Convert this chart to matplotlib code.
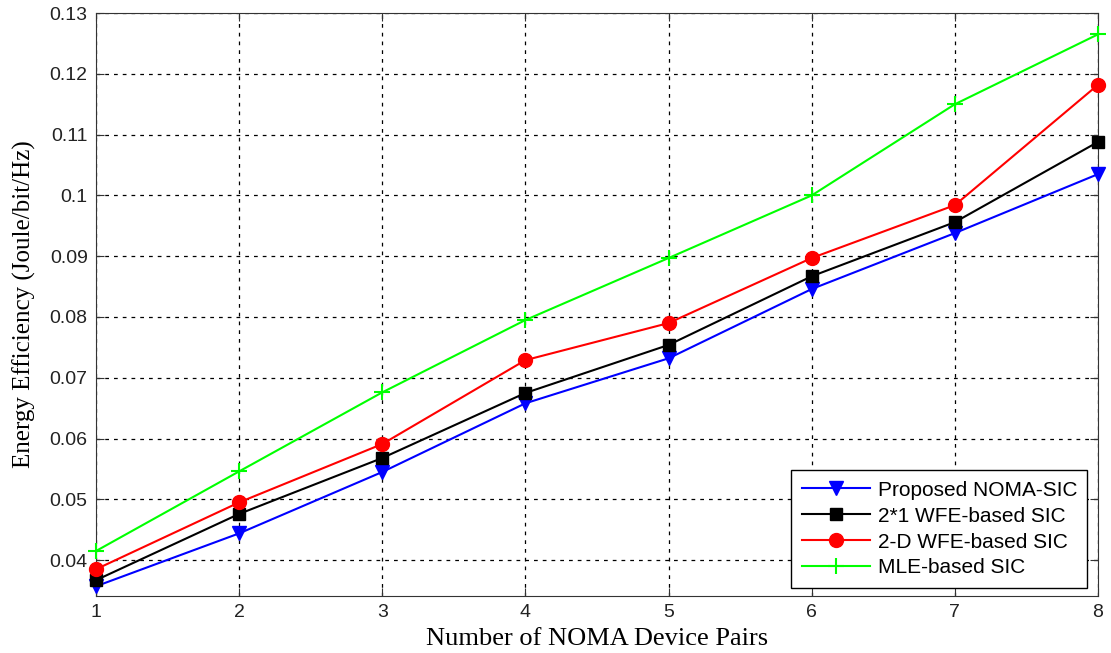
import numpy as np
import matplotlib.pyplot as plt
from matplotlib.ticker import FuncFormatter

pairs = [1, 2, 3, 4, 5, 6, 7, 8]
proposed = [0.0357, 0.0444, 0.0545, 0.0658, 0.0732, 0.0846, 0.0938, 0.1035]
wfe_21 = [0.0367, 0.0476, 0.0568, 0.0675, 0.0754, 0.0867, 0.0956, 0.1088]
wfe_2d = [0.0385, 0.0495, 0.0591, 0.0729, 0.0790, 0.0897, 0.0984, 0.1182]
mle = [0.0415, 0.0546, 0.0676, 0.0795, 0.0897, 0.1000, 0.1150, 0.1265]

yticks = [0.04, 0.05, 0.06, 0.07, 0.08, 0.09, 0.1, 0.11, 0.12, 0.13]

fig = plt.figure(figsize=(11.11, 6.53), dpi=100)
ax = fig.add_axes([0.0864, 0.0873, 0.9019, 0.8927])

ax.plot(pairs, proposed, color='blue', marker='v', markersize=10, lw=1.5,
        clip_on=False, zorder=3, label='Proposed NOMA-SIC')
ax.plot(pairs, wfe_21, color='black', marker='s', markersize=9, lw=1.5,
        clip_on=False, zorder=3, label='2*1 WFE-based SIC')
ax.plot(pairs, wfe_2d, color='red', marker='o', markersize=10, lw=1.5,
        clip_on=False, zorder=3, label='2-D WFE-based SIC')
ax.plot(pairs, mle, color='#00ff00', marker='+', markersize=12, mew=1.5, lw=1.5,
        clip_on=False, zorder=3, label='MLE-based SIC')

ax.set_xlim(1, 8)
ax.set_ylim(0.0341, 0.13)
ax.set_xticks(pairs)
ax.set_yticks(yticks)
ax.yaxis.set_major_formatter(FuncFormatter(lambda v, p: '%g' % round(v, 4)))
ax.tick_params(direction='in', top=True, right=True, labelsize=14, length=6,
               colors='#333333', labelcolor='#222222', pad=6)
for lab in ax.get_xticklabels() + ax.get_yticklabels():
    lab.set_family('Liberation Sans')
ax.grid(True, color='black', linestyle=(0, (3, 4)), lw=0.9)
for s in ax.spines.values():
    s.set_color('#333333')

ax.set_xlabel('Number of NOMA Device Pairs', family='Liberation Serif', fontsize=19, labelpad=5)
ax.set_ylabel('Energy Efficiency (Joule/bit/Hz)', family='Liberation Serif', fontsize=18, labelpad=10)

leg = ax.legend(loc='lower right', bbox_to_anchor=(0.9895, 0.014), fancybox=False, framealpha=1,
                edgecolor='black', prop={'family': 'Liberation Sans', 'size': 15},
                handlelength=3.3, handletextpad=0.35, borderpad=0.5, labelspacing=0.33,
                borderaxespad=0)
leg.get_frame().set_linewidth(1.0)

fig.savefig('out.png', dpi=100)
